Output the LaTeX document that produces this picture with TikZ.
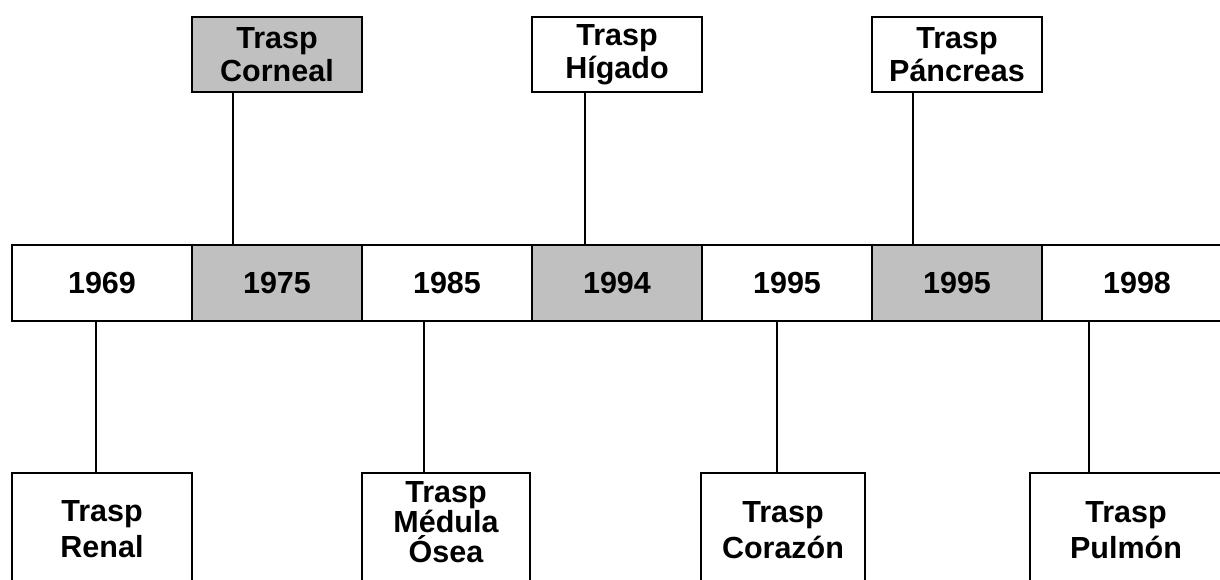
\documentclass[tikz,border=0pt]{standalone}
\usepackage{fontspec}
\setmainfont{Liberation Sans}
\usepackage{xcolor}
\usepackage{tikz}
\usetikzlibrary{positioning}
\definecolor{CellGray}{HTML}{C0C0C0}

\begin{document}
\begin{tikzpicture}[
  x=1pt, y=-1pt,
  font=\fontsize{30.5}{32.5}\selectfont\bfseries,
  cell/.style={draw, line width=2pt, outer sep=0pt, inner sep=0pt, minimum width=170pt, minimum height=76pt},
  hcell/.style={cell, fill=CellGray},
  topbox/.style={draw, line width=2pt, outer sep=0pt, inner sep=0pt, align=center, minimum width=170pt, minimum height=75pt, fill=white},
  botbox/.style={draw, line width=2pt, outer sep=0pt, inner xsep=0pt, align=center, anchor=north west, text depth=120pt, fill=white, font=\fontsize{30.5}{36}\selectfont\bfseries},
  link/.style={line width=2pt}
]
\useasboundingbox (0,0) rectangle (1220,579);
\clip (0,0) rectangle (1220,579);

% time line
\node[cell, minimum width=180pt] (y1969) at (102,283) {1969};
\node[hcell, right=0pt of y1969] (y1975) {1975};
\node[cell, right=0pt of y1975] (y1985) {1985};
\node[hcell, right=0pt of y1985] (y1994) {1994};
\node[cell, right=0pt of y1994] (y1995a) {1995};
\node[hcell, right=0pt of y1995a] (y1995b) {1995};
\node[cell, minimum width=190pt, right=0pt of y1995b] (y1998) {1998};

% above
\node[topbox, fill=CellGray, above=153pt of y1975] (corneal) {Trasp\\Corneal};
\node[topbox, above=153pt of y1994] (higado) {Trasp\\Hígado};
\node[topbox, above=153pt of y1995b] (pancreas) {Trasp\\Páncreas};

% below
\node[botbox, minimum width=180pt, inner ysep=28pt] (renal) at ([yshift=-152pt]y1969.south west) {Trasp\\Renal};
\node[botbox, minimum width=168pt, inner ysep=9pt, font=\fontsize{30.5}{30}\selectfont\bfseries] (medula) at ([yshift=-152pt]y1985.south west) {Trasp\\Médula\\Ósea};
\node[botbox, minimum width=164pt, inner ysep=29pt] (corazon) at ([xshift=-1pt,yshift=-152pt]y1995a.south west) {Trasp\\Corazón};
\node[botbox, minimum width=192pt, inner ysep=29pt] (pulmon) at ([xshift=-12pt,yshift=-152pt]y1998.south west) {Trasp\\Pulmón};

\draw[link] (corneal.south -| 233,0) -- (y1975.north -| 233,0);
\draw[link] (higado.south -| 585,0) -- (y1994.north -| 585,0);
\draw[link] (pancreas.south -| 913,0) -- (y1995b.north -| 913,0);
\draw[link] (y1969.south -| 96,0) -- (renal.north -| 96,0);
\draw[link] (y1985.south -| 424,0) -- (medula.north -| 424,0);
\draw[link] (y1995a.south -| 777,0) -- (corazon.north -| 777,0);
\draw[link] (y1998.south -| 1089,0) -- (pulmon.north -| 1089,0);
\end{tikzpicture}
\end{document}
